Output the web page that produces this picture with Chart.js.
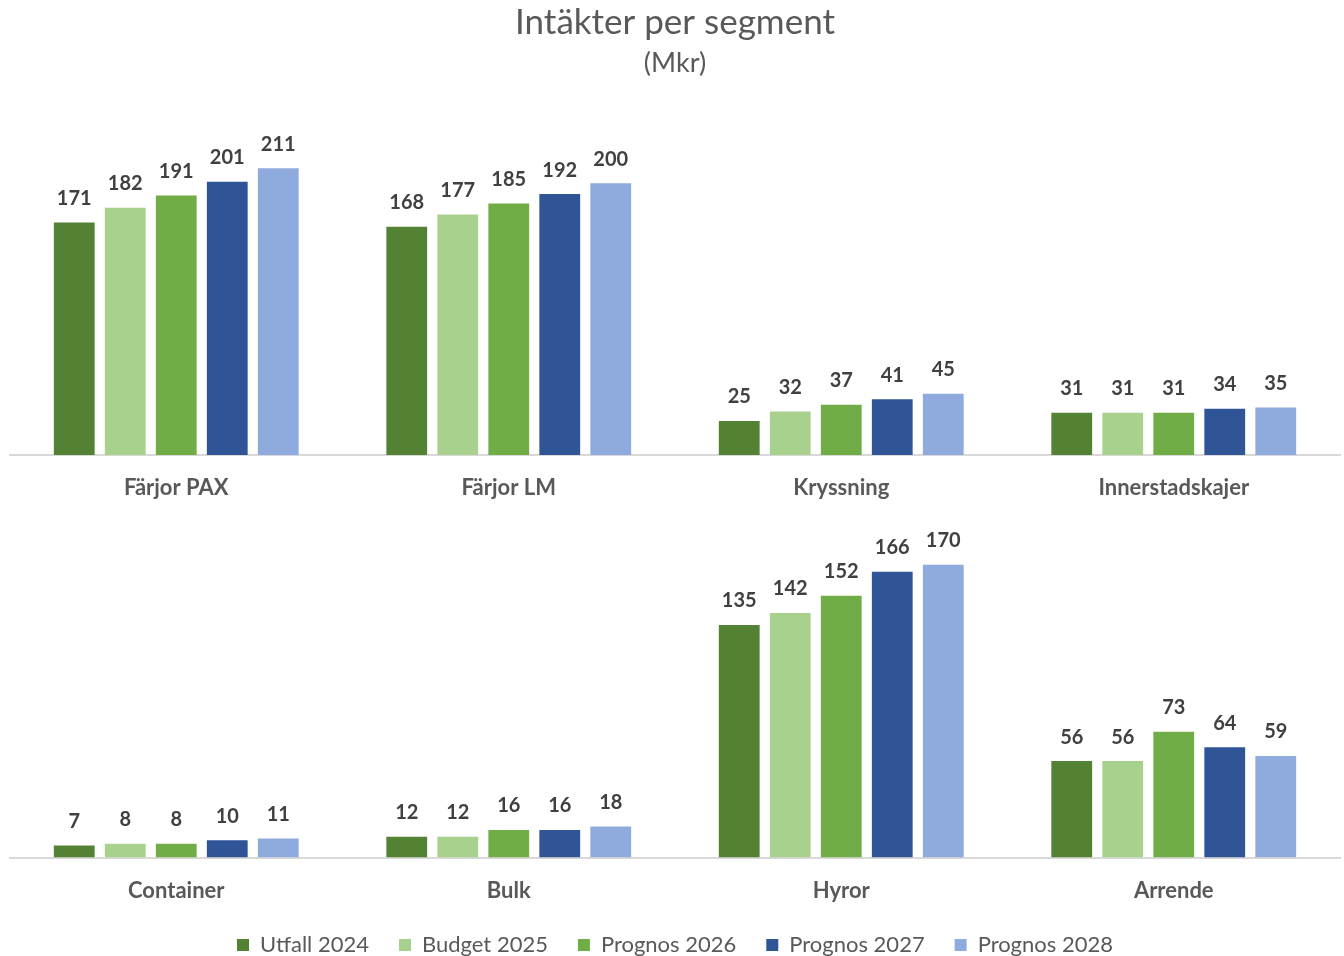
<!DOCTYPE html>
<html><head><meta charset="utf-8">
<script src="https://cdn.jsdelivr.net/npm/chart.js@4.4.1/dist/chart.umd.min.js"></script>
<style>
html,body{margin:0;padding:0;background:#fff;overflow:hidden;}
#w1{position:absolute;left:0;top:0;width:1344px;height:510px;}
#w2{position:absolute;left:0;top:510px;width:1344px;height:456px;}
</style></head><body>
<div id="w1"><canvas id="c1"></canvas></div>
<div id="w2"><canvas id="c2"></canvas></div>
<script>
const seriesNames = ["Utfall 2024","Budget 2025","Prognos 2026","Prognos 2027","Prognos 2028"];
const topCategories = ["Färjor PAX","Färjor LM","Kryssning","Innerstadskajer"];
const bottomCategories = ["Container","Bulk","Hyror","Arrende"];
const utfall2024Top = [171,168,25,31];
const budget2025Top = [182,177,32,31];
const prognos2026Top = [191,185,37,31];
const prognos2027Top = [201,192,41,34];
const prognos2028Top = [211,200,45,35];
const utfall2024Bottom = [7,12,135,56];
const budget2025Bottom = [8,12,142,56];
const prognos2026Bottom = [8,16,152,73];
const prognos2027Bottom = [10,16,166,64];
const prognos2028Bottom = [11,18,170,59];
const colors = ["#548235","#A9D18E","#70AD47","#2F5597","#8FAADC"];
const FONT = "Lato, 'Open Sans', sans-serif";

const valueLabels = {
  id:'valueLabels',
  afterDatasetsDraw(chart){
    const ctx = chart.ctx;
    ctx.save();
    ctx.font = "bold 20px " + FONT;
    ctx.fillStyle = "#404040";
    ctx.textAlign = "center";
    ctx.textBaseline = "bottom";
    chart.data.datasets.forEach((ds,i)=>{
      const meta = chart.getDatasetMeta(i);
      meta.data.forEach((el,j)=>{
        ctx.fillText(String(ds.data[j]), el.x, el.y - 14);
      });
    });
    ctx.restore();
  }
};

function makeDatasets(arrs){
  return arrs.map((d,i)=>({label:seriesNames[i], data:d, backgroundColor:colors[i], borderWidth:0,
    barPercentage:0.80, categoryPercentage:0.767}));
}

function makeChart(id, cats, arrs, max, isTop){
  return new Chart(document.getElementById(id), {
    type:'bar',
    data:{labels:cats, datasets:makeDatasets(arrs)},
    options:{
      responsive:true, maintainAspectRatio:false, animation:false,
      layout:{padding:{left:10,right:4,top:isTop?0:10,bottom:0}},
      plugins:{
        legend:{display:!isTop, position:'bottom',
          labels:{font:{family:FONT,size:22}, color:'#595959', boxWidth:12, boxHeight:12, padding:30}},
        title:{display:isTop, text:'Intäkter per segment', color:'#595959',
          font:{family:FONT,size:35,weight:'normal'}, padding:{top:2,bottom:3}},
        subtitle:{display:isTop, text:'(Mkr)', color:'#595959',
          font:{family:FONT,size:27,weight:'normal'}, padding:{bottom:10}},
        tooltip:{enabled:false}
      },
      scales:{
        x:{grid:{display:false}, border:{display:true,color:'#D9D9D9',width:2},
          ticks:{font:{family:FONT,size:22,weight:'bold'}, color:'#595959', padding:12},
          afterFit(scale){ scale.height = isTop ? 55 : 46.5; }},
        y:{display:false, min:0, max:max}
      }
    },
    plugins:[valueLabels]
  });
}
makeChart('c1', topCategories, [utfall2024Top,budget2025Top,prognos2026Top,prognos2027Top,prognos2028Top], 269, true);
makeChart('c2', bottomCategories, [utfall2024Bottom,budget2025Bottom,prognos2026Bottom,prognos2027Bottom,prognos2028Bottom], 196, false);
</script>
</body></html>
